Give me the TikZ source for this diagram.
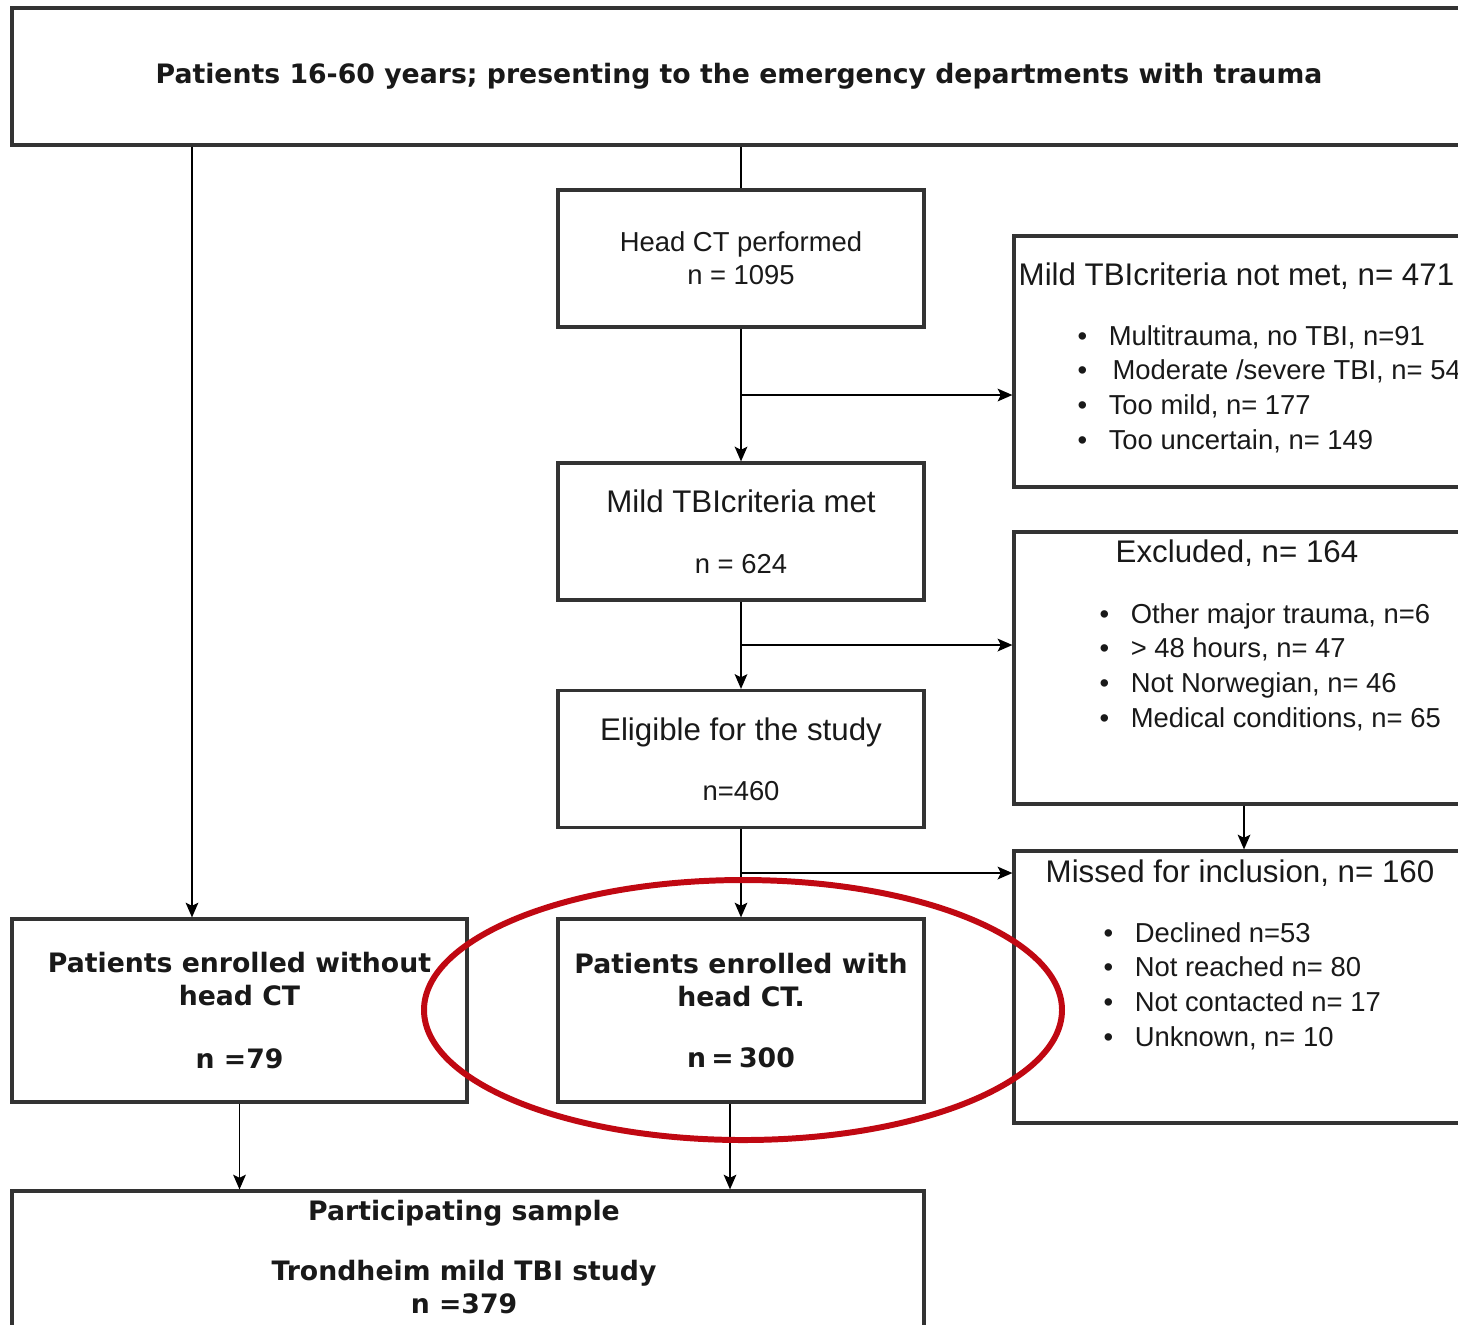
\documentclass[tikz,border=0pt]{standalone}
\usepackage{fontspec}
\setmainfont{Liberation Sans}
\newfontfamily\verdana{DejaVu Sans}
\usetikzlibrary{arrows.meta}
\definecolor{ringred}{RGB}{192,8,18}
\newcommand{\listdot}{\textbullet\hspace{6.1pt}}

\begin{document}
\begin{tikzpicture}[
  every node/.style={text=black!90},
  box/.style={draw=black!80,line width=0.9pt,inner sep=0pt},
  midbox/.style={box,minimum width=3.66cm,minimum height=1.37cm,align=center},
  sidebox/.style={box,minimum width=4.6cm,minimum height=2.72cm},
  heavytxt/.style={font=\verdana\bfseries\fontsize{7.6}{9.4}\selectfont,align=center},
  titletxt/.style={font=\fontsize{8.9}{10.7}\selectfont,inner sep=0pt},
  itemtxt/.style={font=\fontsize{7.8}{9.87}\selectfont,align=left,inner sep=0pt},
  arr/.style={-{Stealth[length=4.2pt,width=3.6pt,inset=0.9pt]},line width=0.55pt}]
\useasboundingbox (0,0) rectangle (14.58,-13.24);
\clip (0,0) rectangle (14.58,-13.24);

% main column
\node[box,heavytxt,minimum width=14.54cm,minimum height=1.37cm] (top) at (7.39,-0.765)
  {Patients 16-60 years; presenting to the emergency departments with trauma};
\node[midbox,font=\fontsize{7.8}{9.4}\selectfont] (headct) at (7.41,-2.585) {Head CT performed\\n = 1095};
\node[midbox,font=\fontsize{8.9}{10.7}\selectfont] (critmet) at (7.41,-5.315)
  {Mild TBIcriteria met\\[6.6pt]\fontsize{7.8}{9.4}\selectfont n = 624};
\node[midbox,font=\fontsize{8.9}{10.7}\selectfont] (elig) at (7.41,-7.59)
  {Eligible for the study\\[6.3pt]\fontsize{7.8}{9.4}\selectfont n=460};
\node[midbox,heavytxt,minimum height=1.83cm] (withct) at (7.41,-10.105) {Patients enrolled with\\head CT.\\[8pt]n\kern1.5pt=\kern1.5pt300};
\node[box,heavytxt,minimum width=4.55cm,minimum height=1.83cm] (noct) at (2.395,-10.105) {Patients enrolled without\\head CT\\[8.5pt]n =79};
\node[box,minimum width=9.12cm,minimum height=1.49cm] (sample) at (4.68,-12.655) {};
\node[heavytxt] (sampletxt) at (4.64,-12.57) {Participating sample\\[7.7pt]Trondheim mild TBI study\\n =379};

% side boxes
\node[sidebox,minimum height=2.51cm] (notmet) at (12.44,-3.615) {};
\node[titletxt,anchor=west] (notmettl) at (10.18,-2.76) {Mild TBIcriteria not met, n= 471};
\node[itemtxt,anchor=west] (notmetls) at (10.77,-3.89)
  {\listdot Multitrauma, no TBI, n=91\\\listdot\hspace{1.1pt}Moderate /severe TBI, n= 54\\\listdot Too mild, n= 177\\\listdot Too uncertain, n= 149};
\node[sidebox] (excl) at (12.44,-6.68) {};
\node[titletxt] (excltl) at (12.37,-5.53) {Excluded, n= 164};
\node[itemtxt,anchor=west] (exclls) at (10.99,-6.67)
  {\listdot Other major trauma, n=6\\\listdot > 48 hours, n= 47\\\listdot Not Norwegian, n= 46\\\listdot Medical conditions, n= 65};
\node[sidebox] (missed) at (12.44,-9.87) {};
\node[titletxt,anchor=west] (missedtl) at (10.45,-8.73) {Missed for inclusion, n= 160};
\node[itemtxt,anchor=west] (missedls) at (11.03,-9.86)
  {\listdot Declined n=53\\\listdot Not reached n= 80\\\listdot Not contacted n= 17\\\listdot Unknown, n= 10};

% connectors
\coordinate (lft) at (1.92,0);
\coordinate (rgt) at (7.30,0);
\coordinate (j1) at (7.41,-3.95);
\coordinate (j2) at (7.41,-6.45);
\coordinate (j3) at (7.41,-8.73);
\draw[arr] (top.south -| lft) -- (noct.north -| lft);
\draw[line width=0.55pt] (top.south -| headct.north) -- (headct.north);
\draw[arr] (headct.south) -- (critmet.north);
\draw[arr] (j1) -- (j1 -| notmet.west);
\draw[arr] (critmet.south) -- (elig.north);
\draw[arr] (j2) -- (j2 -| excl.west);
\draw[arr] (elig.south) -- (withct.north);
\draw[arr] (j3) -- (j3 -| missed.west);
\draw[arr] (excl.south) -- (missed.north);
\draw[arr] (noct.south) -- (noct.south |- sample.north);
\draw[arr] (withct.south -| rgt) -- (sample.north -| rgt);

% highlight ring
\draw[ringred,line width=1.7pt] (7.43,-10.10) ellipse [x radius=3.19cm, y radius=1.30cm];
\end{tikzpicture}
\end{document}
